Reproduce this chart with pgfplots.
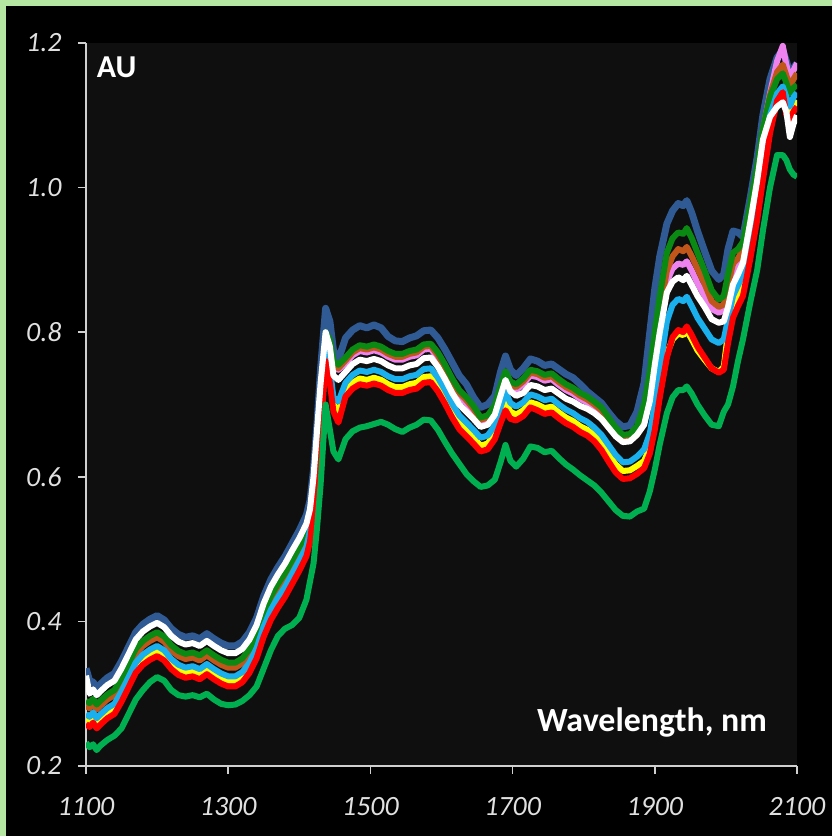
\documentclass[border=0pt]{standalone}
\usepackage{pgfplots}
\usepackage{pgfplotstable}
\pgfplotsset{compat=1.18}
\usepackage{fontspec}
\setmainfont{Carlito}
\definecolor{frameg}{HTML}{B5E6A2}
\definecolor{plotbg}{HTML}{0F0F0F}
\definecolor{axgray}{HTML}{D0D0D0}
\definecolor{sB}{HTML}{2F5A94}
\definecolor{sG}{HTML}{0A8A12}
\definecolor{sBr}{HTML}{C0561A}
\definecolor{sP}{HTML}{EE82EE}
\definecolor{sW}{HTML}{FFFFFF}
\definecolor{sC}{HTML}{1AB0EE}
\definecolor{sY}{HTML}{FFFF00}
\definecolor{sR}{HTML}{FF0000}
\definecolor{sL}{HTML}{00B050}
\pgfplotstableread{
x B G Br P W C Y R L
1100 .335 .290 .283 .286 .325 .272 .266 .258 .232
1105 .318 .287 .280 .283 .300 .268 .262 .254 .226
1110 .316 .293 .286 .289 .306 .274 .268 .260 .230
1115 .308 .285 .278 .281 .298 .266 .260 .252 .222
1120 .313 .290 .283 .286 .303 .271 .265 .257 .228
1130 .322 .299 .292 .295 .312 .280 .274 .266 .236
1140 .328 .305 .298 .301 .318 .286 .280 .272 .242
1150 .345 .322 .315 .318 .335 .303 .297 .289 .252
1160 .365 .342 .335 .338 .355 .323 .317 .309 .272
1170 .385 .362 .355 .358 .375 .343 .337 .329 .292
1180 .396 .373 .366 .369 .386 .354 .348 .340 .305
1190 .403 .380 .373 .376 .393 .361 .355 .347 .316
1200 .408 .385 .378 .381 .398 .366 .360 .352 .323
1210 .402 .379 .372 .375 .392 .360 .354 .346 .318
1220 .390 .367 .360 .363 .380 .348 .342 .334 .305
1230 .382 .359 .352 .355 .372 .340 .334 .326 .298
1240 .378 .355 .348 .351 .368 .336 .330 .322 .296
1250 .380 .357 .350 .353 .370 .338 .332 .324 .298
1260 .376 .353 .346 .349 .366 .334 .328 .320 .295
1270 .383 .360 .353 .356 .373 .341 .335 .327 .300
1280 .376 .353 .346 .349 .366 .334 .328 .320 .292
1290 .370 .347 .340 .343 .360 .328 .322 .314 .286
1300 .366 .343 .336 .339 .356 .324 .318 .310 .284
1310 .366 .343 .336 .339 .356 .324 .318 .310 .285
1320 .372 .349 .342 .345 .362 .330 .324 .316 .290
1330 .385 .362 .355 .358 .375 .343 .337 .329 .298
1340 .405 .382 .375 .378 .395 .363 .357 .349 .310
1350 .435 .412 .405 .408 .425 .393 .387 .379 .335
1360 .458 .435 .428 .431 .448 .416 .410 .402 .360
1370 .475 .452 .445 .448 .465 .433 .427 .419 .380
1380 .490 .467 .460 .463 .480 .448 .442 .434 .390
1390 .508 .485 .478 .481 .498 .466 .460 .452 .395
1400 .526 .503 .497 .500 .515 .484 .478 .470 .405
1410 .547 .522 .515 .518 .535 .503 .497 .490 .430
1415 .567 .540 .535 .538 .555 .525 .518 .510 .455
1420 .610 .580 .575 .578 .600 .565 .558 .550 .480
1425 .675 .640 .630 .635 .665 .615 .605 .595 .530
1430 .750 .700 .690 .695 .730 .680 .670 .660 .590
1437 .833 .800 .795 .795 .800 .780 .770 .760 .700
1443 .815 .790 .785 .785 .780 .750 .740 .730 .665
1448 .775 .760 .755 .752 .740 .710 .700 .690 .635
1455 .762 .755 .750 .748 .734 .704 .690 .675 .624
1465 .792 .765 .761 .757 .745 .730 .719 .711 .652
1475 .803 .776 .772 .768 .756 .741 .730 .722 .663
1485 .809 .782 .778 .774 .762 .747 .736 .728 .668
1495 .806 .780 .776 .772 .760 .745 .734 .726 .670
1505 .810 .783 .779 .775 .763 .748 .737 .729 .673
1515 .806 .780 .776 .772 .760 .745 .734 .726 .676
1525 .794 .774 .770 .766 .754 .739 .728 .720 .672
1535 .788 .770 .766 .762 .750 .735 .724 .716 .666
1545 .787 .770 .766 .762 .750 .735 .724 .716 .662
1555 .792 .774 .770 .766 .754 .739 .728 .720 .668
1565 .795 .776 .772 .768 .756 .741 .730 .722 .672
1575 .802 .783 .780 .776 .764 .749 .738 .730 .679
1585 .803 .784 .781 .777 .765 .750 .739 .731 .678
1595 .792 .772 .768 .764 .752 .737 .726 .718 .665
1605 .776 .755 .751 .747 .735 .720 .709 .701 .648
1615 .758 .736 .732 .728 .716 .701 .690 .682 .632
1625 .740 .720 .716 .712 .700 .685 .674 .666 .618
1635 .728 .710 .706 .702 .690 .675 .664 .656 .604
1645 .710 .698 .694 .690 .680 .665 .654 .646 .594
1655 .696 .682 .679 .676 .669 .654 .643 .635 .586
1665 .700 .685 .682 .679 .672 .657 .646 .638 .588
1675 .712 .699 .696 .693 .686 .671 .660 .652 .596
1683 .745 .726 .723 .720 .712 .696 .684 .674 .620
1690 .767 .746 .743 .740 .734 .717 .703 .692 .644
1697 .748 .732 .728 .725 .718 .702 .690 .680 .622
1705 .740 .728 .724 .720 .712 .697 .686 .678 .614
1715 .750 .736 .732 .728 .716 .703 .692 .684 .625
1725 .763 .748 .744 .740 .727 .714 .703 .696 .642
1735 .760 .746 .742 .738 .725 .711 .700 .692 .640
1745 .754 .741 .737 .733 .720 .706 .695 .687 .634
1755 .756 .743 .739 .735 .722 .708 .697 .689 .636
1765 .749 .735 .731 .727 .715 .700 .689 .681 .626
1775 .742 .728 .724 .720 .708 .693 .682 .674 .617
1785 .737 .723 .719 .715 .704 .688 .677 .669 .610
1795 .728 .716 .712 .708 .698 .681 .670 .662 .602
1805 .718 .711 .707 .703 .694 .676 .665 .657 .595
1815 .710 .704 .700 .696 .688 .668 .657 .649 .588
1825 .702 .696 .692 .688 .680 .658 .646 .637 .578
1835 .689 .682 .678 .675 .668 .644 .631 .621 .566
1845 .677 .668 .664 .661 .656 .630 .617 .606 .554
1855 .669 .658 .654 .652 .648 .620 .608 .597 .546
1865 .671 .659 .655 .653 .649 .621 .609 .598 .545
1875 .690 .670 .665 .662 .658 .628 .615 .604 .552
1885 .730 .700 .690 .684 .672 .638 .622 .612 .556
1893 .800 .745 .730 .722 .705 .660 .640 .632 .580
1900 .860 .800 .785 .775 .755 .700 .672 .665 .610
1907 .905 .850 .830 .815 .800 .750 .715 .710 .645
1917 .950 .910 .885 .870 .855 .815 .770 .765 .688
1925 .968 .930 .905 .888 .870 .838 .790 .793 .710
1933 .978 .938 .915 .895 .876 .846 .798 .803 .720
1940 .975 .936 .912 .893 .872 .843 .796 .800 .720
1945 .982 .944 .918 .898 .878 .849 .802 .808 .725
1952 .965 .930 .905 .885 .865 .836 .790 .796 .715
1960 .940 .910 .888 .868 .850 .820 .775 .780 .700
1970 .912 .885 .867 .850 .835 .805 .762 .765 .685
1980 .885 .858 .843 .832 .818 .790 .750 .750 .672
1990 .873 .845 .835 .827 .813 .785 .745 .744 .670
1997 .880 .850 .838 .830 .815 .790 .752 .748 .690
2003 .915 .880 .865 .852 .835 .818 .800 .785 .700
2010 .940 .910 .895 .880 .866 .850 .838 .820 .725
2017 .938 .915 .902 .890 .880 .865 .852 .836 .760
2024 .932 .925 .915 .905 .896 .880 .868 .850 .790
2034 .985 .975 .968 .962 .951 .930 .918 .900 .840
2044 1.042 1.030 1.025 1.020 1.010 .985 .972 .955 .886
2052 1.100 1.082 1.080 1.078 1.066 1.040 1.025 1.010 .940
2062 1.150 1.125 1.128 1.130 1.098 1.100 1.085 1.075 1.000
2072 1.180 1.150 1.160 1.175 1.112 1.130 1.118 1.120 1.045
2080 1.190 1.158 1.170 1.196 1.118 1.140 1.125 1.132 1.045
2085 1.175 1.145 1.155 1.170 1.105 1.125 1.110 1.100 1.038
2090 1.158 1.130 1.140 1.150 1.070 1.112 1.100 1.095 1.025
2095 1.165 1.138 1.150 1.162 1.088 1.125 1.112 1.105 1.018
2100 1.172 1.142 1.158 1.172 1.100 1.131 1.121 1.112 1.015
}\spectra
\begin{document}
\begin{tikzpicture}
\useasboundingbox (0,0) rectangle (832bp,836bp);
\fill[frameg] (0,0) rectangle (832bp,836bp);
\fill[black] (6bp,0) rectangle (832bp,830bp);
\begin{axis}[
  at={(86bp,70bp)}, anchor=south west,
  scale only axis, width=711bp, height=723bp,
  xmin=1100, xmax=2100, ymin=0.2, ymax=1.2,
  axis background/.style={fill=plotbg},
  axis x line*=bottom, axis y line*=left,
  axis line style={axgray, line width=1.6bp},
  xtick={1100,1300,1500,1700,1900,2100},
  ytick={0.2,0.4,0.6,0.8,1.0,1.2},
  tick align=outside, major tick length=8bp,
  tick style={axgray, line width=1.6bp},
  /pgf/number format/assume math mode=true,
  x tick label style={font=\fontsize{28}{32}\selectfont\itshape, text=white!88!black, /pgf/number format/1000 sep={}, yshift=-20bp},
  y tick label style={font=\fontsize{28}{32}\selectfont\itshape, text=white!88!black, /pgf/number format/fixed, /pgf/number format/fixed zerofill, /pgf/number format/precision=1, xshift=-13bp},
  every axis plot/.append style={line width=6bp, line join=round, no marks},
  clip=true,
]
\addplot[sB, line width=7bp] table[x=x, y=B] {\spectra};
\addplot[sP] table[x=x, y=P] {\spectra};
\addplot[sBr] table[x=x, y=Br] {\spectra};
\addplot[sG] table[x=x, y=G] {\spectra};
\addplot[sY] table[x=x, y=Y] {\spectra};
\addplot[sC] table[x=x, y=C] {\spectra};
\addplot[sR] table[x=x, y=R] {\spectra};
\addplot[sW] table[x=x, y=W] {\spectra};
\addplot[sL] table[x=x, y=L] {\spectra};
\node[anchor=north west, inner sep=0pt, text=white, font=\fontsize{32}{35}\selectfont\bfseries] at (rel axis cs:0.015,0.981) {AU};
\node[anchor=base, inner sep=0pt, text=white, font=\fontsize{34}{38}\selectfont\bfseries] at (rel axis cs:0.796,0.048) {Wavelength, nm};
\end{axis}
\end{tikzpicture}
\end{document}
